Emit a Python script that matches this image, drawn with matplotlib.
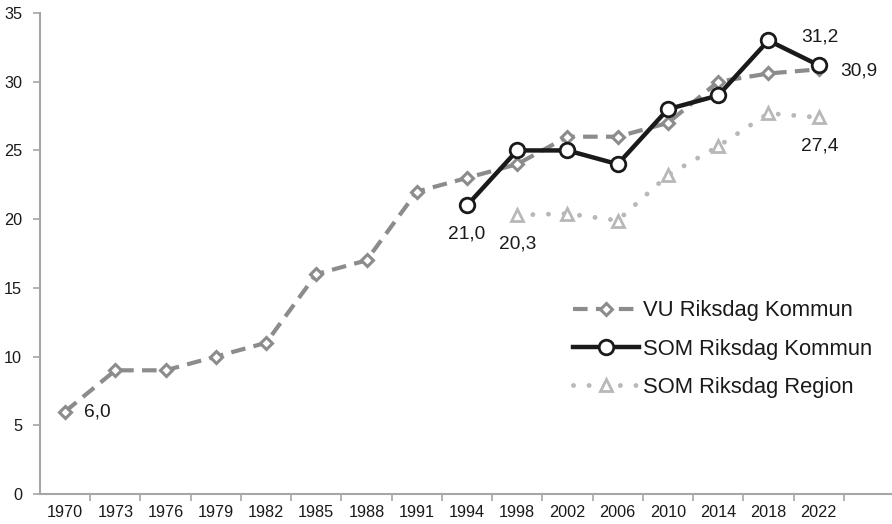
import numpy as np
import matplotlib
matplotlib.use("Agg")
import matplotlib.pyplot as plt

plt.rcParams['font.family'] = ['Liberation Sans', 'DejaVu Sans']

# kategorier (valår)
years = ['1970', '1973', '1976', '1979', '1982', '1985', '1988', '1991',
         '1994', '1998', '2002', '2006', '2010', '2014', '2018', '2022']

# VU Riksdag Kommun, alla år
vu = [6.0, 9.0, 9.0, 10.0, 11.0, 16.0, 17.0, 22.0,
      23.0, 24.0, 26.0, 26.0, 27.0, 30.0, 30.6, 30.9]
# SOM Riksdag Kommun, från 1994
som_years = ['1994', '1998', '2002', '2006', '2010', '2014', '2018', '2022']
som_kommun = [21.0, 25.0, 25.0, 24.0, 28.0, 29.0, 33.0, 31.2]
# SOM Riksdag Region, från 1998
reg_years = ['1998', '2002', '2006', '2010', '2014', '2018', '2022']
som_region = [20.3, 20.4, 19.9, 23.2, 25.3, 27.7, 27.4]

x_vu = np.arange(len(years))
x_som = np.array([years.index(y) for y in som_years])
x_reg = np.array([years.index(y) for y in reg_years])

fig = plt.figure(figsize=(8.92, 5.24), dpi=100)
ax = fig.add_axes([40/892, 1-494/524, 854/892, (494-13)/524])

axgray = '#a6a6a6'
txt = '#1a1a1a'

ax.plot(x_vu, vu, color='#8c8c8c', lw=3, dashes=(3.5, 2.0),
        marker='D', ms=6.5, mfc='white', mec='#8c8c8c', mew=2.2,
        label='VU Riksdag Kommun', zorder=3)
ax.plot(x_som, som_kommun, color='#1a1a1a', lw=3.2,
        marker='o', ms=10.5, mfc='white', mec='#1a1a1a', mew=2,
        label='SOM Riksdag Kommun', zorder=4)
ax.plot(x_reg, som_region, color='#b8b8b8', lw=3.5, dashes=(0.01, 3.2),
        dash_capstyle='round', marker='^', ms=9, mfc='white',
        mec='#b8b8b8', mew=2, label='SOM Riksdag Region', zorder=2)

# dataetiketter
def lab(xv, yv, dx, dy):
    ax.annotate(f'{yv:.1f}'.replace('.', ','), (xv, yv), xytext=(dx, dy),
                textcoords='offset pixels', ha='center', va='center',
                fontsize=13.8, color=txt)

lab(x_vu[0], vu[0], 32, 0)
lab(x_som[0], som_kommun[0], 0, -29)
lab(x_reg[0], som_region[0], 0, -29)
lab(x_som[-1], som_kommun[-1], 1, 28)
lab(x_vu[-1], vu[-1], 40, -2)
lab(x_reg[-1], som_region[-1], 1, -29)

ax.set_xlim(-0.5, 16.5)
ax.set_ylim(0, 35)
ax.set_yticks(np.arange(0, 36, 5))
ax.set_xticks(x_vu)
ax.set_xticklabels(years)
ax.set_xticks(np.arange(0.5, 16.6, 1), minor=True)
ax.tick_params(axis='x', which='major', length=0, pad=8, labelsize=11.7,
               labelcolor=txt)
ax.tick_params(axis='x', which='minor', length=5, width=1.2, color=axgray)
ax.tick_params(axis='y', length=5, width=1.2, color=axgray, pad=8,
               labelsize=11.7, labelcolor=txt)

for s in ['top', 'right']:
    ax.spines[s].set_visible(False)
for s in ['left', 'bottom']:
    ax.spines[s].set_color(axgray)
    ax.spines[s].set_linewidth(1.5)

fig.legend(loc='center left', bbox_to_anchor=(573/892, 1-349/524),
           frameon=False, fontsize=15.8, handlelength=3.0, handletextpad=0.2,
           labelspacing=0.78, borderpad=0, borderaxespad=0, labelcolor=txt)

fig.savefig('out.png', dpi=100)
